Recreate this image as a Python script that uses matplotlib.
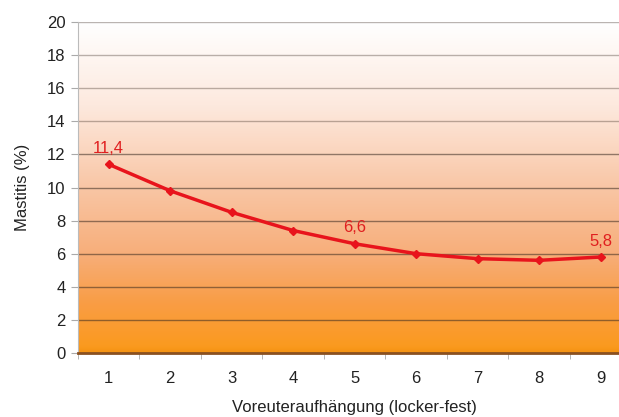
import matplotlib.pyplot as plt
import numpy as np
from matplotlib.colors import LinearSegmentedColormap

plt.rcParams['font.family'] = ['Liberation Sans', 'DejaVu Sans']

stufen = [1, 2, 3, 4, 5, 6, 7, 8, 9]
mastitis = [11.4, 9.8, 8.5, 7.4, 6.6, 6.0, 5.7, 5.6, 5.8]
beschriftet = {0: "11,4", 4: "6,6", 8: "5,8"}
y_ticks = [0, 2, 4, 6, 8, 10, 12, 14, 16, 18, 20]

fig = plt.figure(figsize=(6.19, 4.17), dpi=100)
ax = fig.add_axes([0.126, 0.1535, 0.894, 0.7937])

# Hintergrund: Verlauf von Weiss (oben) nach Orange (unten)
verlauf = LinearSegmentedColormap.from_list(
    "verlauf",
    [(0.0, "#f59312"), (0.02, "#fb9a1f"), (0.15, "#f99d45"),
     (0.30, "#f7ae7a"), (0.50, "#f9c6a5"), (0.75, "#fde9de"), (1.0, "#ffffff")])
grad = np.linspace(0, 1, 256).reshape(-1, 1)
ax.imshow(grad, cmap=verlauf, aspect="auto", origin="lower",
          extent=[0.5, 9.5, 0, 20], zorder=0)

# Gitterlinien oben heller, unten dunkler
for y in y_ticks[1:]:
    alpha = 0.55 if y <= 12 else 0.35
    ax.axhline(y, color="#3a2a20", alpha=alpha, lw=1.0, zorder=1)

ax.plot(stufen, mastitis, color="#e8141c", lw=2.5, marker="D", ms=4.5,
        zorder=3, clip_on=False)
for i, txt in beschriftet.items():
    ax.annotate(txt, (stufen[i], mastitis[i]), xytext=(0, 6),
                textcoords="offset points", ha="center", va="bottom",
                color="#e02020", fontsize=12)

ax.set_xlim(0.5, 9.5)
ax.set_ylim(0, 20)
ax.set_yticks(y_ticks)
ax.set_xticks(stufen)
ax.set_xticks(np.arange(0.5, 10, 1), minor=True)
ax.tick_params(axis="x", which="major", length=0, pad=13, labelsize=12,
               colors="#222222")
ax.tick_params(axis="x", which="minor", length=4, color="#aaaaaa")
ax.tick_params(axis="y", length=5, color="#aaaaaa", labelsize=12,
               labelcolor="#222222", pad=4)

for s in ["top", "right"]:
    ax.spines[s].set_visible(False)
ax.spines["left"].set_color("#bbbbbb")
ax.spines["left"].set_linewidth(0.8)
ax.spines["bottom"].set_color("#8a5020")
ax.spines["bottom"].set_linewidth(2)
ax.spines["bottom"].set_zorder(4)

ax.set_xlabel("Voreuteraufhängung (locker-fest)", fontsize=12,
              color="#222222", labelpad=10)
ax.set_ylabel("Mastitis (%)", fontsize=12, color="#222222", labelpad=12)

fig.savefig("out.png", dpi=100)
